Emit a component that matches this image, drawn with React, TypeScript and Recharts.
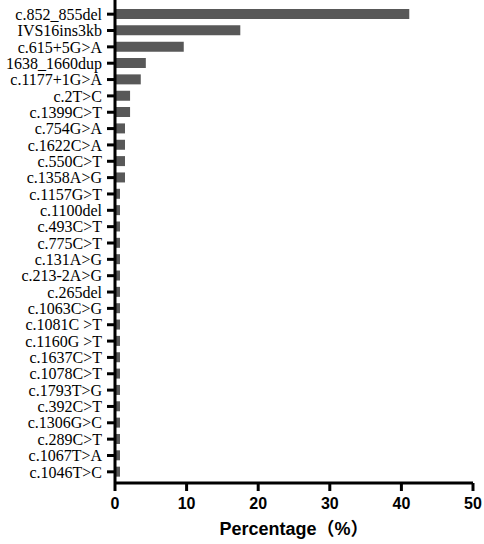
import React from 'react';
import { BarChart, Bar, XAxis, YAxis, Label } from 'recharts';

const mutations = [
  'c.852_855del', 'IVS16ins3kb', 'c.615+5G>A', '1638_1660dup', 'c.1177+1G>A',
  'c.2T>C', 'c.1399C>T', 'c.754G>A', 'c.1622C>A', 'c.550C>T', 'c.1358A>G',
  'c.1157G>T', 'c.1100del', 'c.493C>T', 'c.775C>T', 'c.131A>G', 'c.213-2A>G',
  'c.265del', 'c.1063C>G', 'c.1081C >T', 'c.1160G >T', 'c.1637C>T', 'c.1078C>T',
  'c.1793T>G', 'c.392C>T', 'c.1306G>C', 'c.289C>T', 'c.1067T>A', 'c.1046T>C',
];

const percentages = [
  41.1, 17.5, 9.6, 4.3, 3.6,
  2.1, 2.1, 1.4, 1.4, 1.4, 1.4,
  0.7, 0.7, 0.7, 0.7, 0.7, 0.7,
  0.7, 0.7, 0.7, 0.7, 0.7, 0.7,
  0.7, 0.7, 0.7, 0.7, 0.7, 0.7,
];

const xTicks = [0, 10, 20, 30, 40, 50];

const data = mutations.map((name, i) => ({ name, value: percentages[i] }));

export default function App() {
  return (
    <div style={{ position: 'absolute', left: 0, top: 0 }}>
      <BarChart
        width={484}
        height={544}
        data={data}
        layout="vertical"
        margin={{ top: 0, right: 11, bottom: 0, left: 0 }}
      >
        <XAxis
          type="number"
          domain={[0, 50]}
          ticks={xTicks}
          height={61}
          axisLine={{ stroke: '#000', strokeWidth: 3 }}
          tickLine={{ stroke: '#000', strokeWidth: 3 }}
          tickSize={8}
          tickMargin={7}
          tick={{ fill: '#000', fontSize: 16, fontWeight: 'bold', fontFamily: 'Liberation Sans, Arial, sans-serif' }}
        >
          <Label
            value="Percentage（%）"
            position="insideBottom"
            offset={9}
            style={{ fill: '#000', fontSize: 18, fontWeight: 'bold', fontFamily: 'Liberation Sans, "Noto Sans CJK SC", sans-serif' }}
          />
        </XAxis>
        <YAxis
          type="category"
          dataKey="name"
          width={115}
          interval={0}
          padding={{ top: 6, bottom: 3 }}
          axisLine={{ stroke: '#000', strokeWidth: 3 }}
          tickLine={{ stroke: '#000', strokeWidth: 3 }}
          tickSize={8}
          tickMargin={5}
          tick={{ fill: '#000', fontSize: 16, fontFamily: '"Liberation Serif", "Times New Roman", serif' }}
        />
        <Bar dataKey="value" fill="#585858" barSize={10} isAnimationActive={false} />
      </BarChart>
    </div>
  );
}
